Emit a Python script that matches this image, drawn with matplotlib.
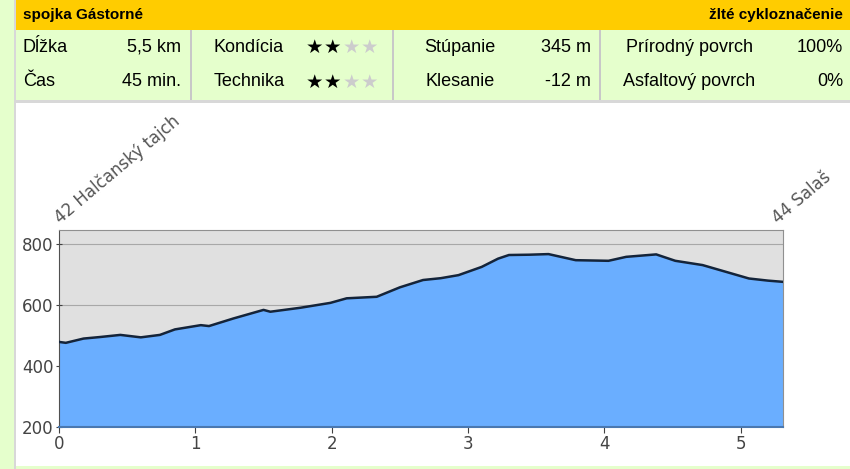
import matplotlib.pyplot as plt
from matplotlib.patches import Rectangle

# Elevation profile (km, m a.s.l.)
km = [0.0, 0.05, 0.18, 0.30, 0.45, 0.60, 0.74, 0.85, 1.04, 1.10, 1.28, 1.50,
      1.55, 1.77, 1.99, 2.11, 2.33, 2.50, 2.67, 2.80, 2.93, 3.10, 3.22, 3.30,
      3.45, 3.59, 3.79, 4.03, 4.16, 4.38, 4.52, 4.72, 4.89, 5.06, 5.20, 5.31]
elev = [479, 476, 490, 495, 502, 494, 502, 520, 534, 531, 556, 584,
        578, 591, 607, 622, 627, 658, 682, 688, 698, 725, 752, 764,
        765, 767, 747, 745, 758, 766, 745, 731, 709, 687, 680, 676]

start_label = "42 Halčanský tajch"
end_label = "44 Salaš"
title_left = "spojka Gástorné"
title_right = "žlté cykloznačenie"

row1 = ["Dĺžka", "5,5 km", "Kondícia", "Stúpanie", "345 m", "Prírodný povrch", "100%"]
row2 = ["Čas", "45 min.", "Technika", "Klesanie", "-12 m", "Asfaltový povrch", "0%"]
kondicia_stars = 2
technika_stars = 2

W, H = 850, 469
green = "#E5FFCC"
yellow = "#FFCC00"
sep = "#C8C8C8"

fig = plt.figure(figsize=(W / 100, H / 100), dpi=100)
fig.patch.set_facecolor("white")
plt.rcParams["font.family"] = ["Liberation Sans", "DejaVu Sans"]


def px_rect(x0, y0, x1, y1, color):
    # rectangle in pixel coords (origin top-left)
    fig.patches.append(Rectangle((x0 / W, 1 - y1 / H), (x1 - x0) / W, (y1 - y0) / H,
                                 transform=fig.transFigure, facecolor=color,
                                 edgecolor="none", zorder=-5))


def px_text(x, y, s, **kw):
    fig.text(x / W, 1 - y / H, s, **kw)


# backgrounds
px_rect(0, 0, 15, H, green)
px_rect(14, 0, 16, H, "#D8D8D8")
px_rect(16, 0, W, 30, yellow)
px_rect(16, 30, W, 100, green)
px_rect(16, 100, W, 103, "#D8D8D8")
px_rect(16, 466, W, H, green)
for xs in [190, 392, 599]:
    px_rect(xs, 30, xs + 2, 100, sep)

# header texts
px_text(23, 15, title_left, fontsize=11, fontweight="bold", va="center", ha="left")
px_text(843, 15, title_right, fontsize=11, fontweight="bold", va="center", ha="right")

fs = 13
for row, yc, nstars in [(row1, 47, kondicia_stars), (row2, 82, technika_stars)]:
    px_text(23, yc, row[0], fontsize=fs, va="center", ha="left")
    px_text(181, yc, row[1], fontsize=fs, va="center", ha="right")
    px_text(249, yc, row[2], fontsize=fs, va="center", ha="center")
    px_text(460, yc, row[3], fontsize=fs, va="center", ha="center")
    px_text(591, yc, row[4], fontsize=fs, va="center", ha="right")
    px_text(689, yc, row[5], fontsize=fs, va="center", ha="center")
    px_text(843, yc, row[6], fontsize=fs, va="center", ha="right")
    for i in range(4):
        px_text(314 + i * 18.5, yc, "★", fontsize=14, va="center", ha="center",
                family="DejaVu Sans", color="black" if i < nstars else "#CCCCCC")

# profile chart
ax = fig.add_axes([59 / W, 1 - 427 / H, (783 - 59) / W, (427 - 230) / H])
ax.set_facecolor("#E0E0E0")
ax.fill_between(km, elev, 200, color="#6AAEFF", zorder=2)
ax.plot(km, elev, color="#14243A", lw=1.8, zorder=3)
ax.set_xlim(0, km[-1])
ax.set_ylim(200, 846)
ax.set_yticks([200, 400, 600, 800])
ax.set_xticks([0, 1, 2, 3, 4, 5])
ax.grid(axis="y", color="#A8A8A8", lw=0.8, zorder=1)
ax.set_axisbelow(True)
for s in ["top", "right"]:
    ax.spines[s].set_color("#909090")
ax.spines["left"].set_color("#505050")
ax.spines["bottom"].set_color("#4A78B0")
ax.spines["bottom"].set_linewidth(1.5)
ax.tick_params(axis="both", colors="#404040", labelcolor="#444444", labelsize=12,
               length=4, direction="inout", pad=2)
ax.tick_params(axis="x", direction="out", length=4)
for lab in ax.get_xticklabels() + ax.get_yticklabels():
    lab.set_family("DejaVu Sans")

ax.text(0.03, 856, start_label, rotation=40, rotation_mode="anchor", ha="left",
        va="bottom", fontsize=12, color="#555555", family="DejaVu Sans", clip_on=False)
ax.text(km[-1] - 0.02, 856, end_label, rotation=40, rotation_mode="anchor", ha="left",
        va="bottom", fontsize=12, color="#555555", family="DejaVu Sans", clip_on=False)

fig.savefig("out.png", dpi=100)
